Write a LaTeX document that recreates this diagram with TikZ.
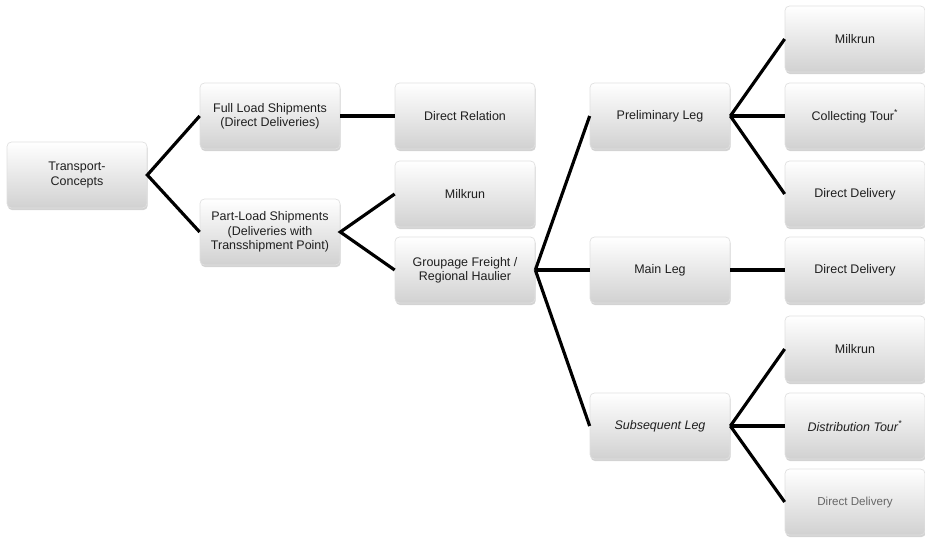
\documentclass[tikz,border=0pt]{standalone}
\usepackage{fontspec}
\setmainfont{Liberation Sans}
\usetikzlibrary{shadows}

\begin{document}
\begin{tikzpicture}[x=0.02cm, y=-0.02cm,
    box/.style={rounded corners=2.5pt, shade, top color=white, bottom color=black!18,
        draw=black!12, minimum width=2.8cm, minimum height=1.32cm, align=center,
        font=\fontsize{7.1}{8.2}\selectfont, text=black!88,
        drop shadow={shadow xshift=0.4pt, shadow yshift=-1.2pt, opacity=0.35}},
    link/.style={line width=1.8pt, black}]
    \useasboundingbox (0,0) rectangle (925,537);

    \node[box] (tc)     at (77,175)  {Transport-\\Concepts};
    \node[box] (full)   at (270,116) {Full Load Shipments\\(Direct Deliveries)};
    \node[box] (part)   at (270,232) {Part-Load Shipments\\(Deliveries with\\Transshipment Point)};
    \node[box] (rel)    at (465,116) {Direct Relation};
    \node[box] (milk1)  at (465,194) {Milkrun};
    \node[box] (group)  at (465,270) {Groupage Freight /\\Regional Haulier};
    \node[box] (pre)    at (660,116) {Preliminary Leg};
    \node[box] (main)   at (660,270) {Main Leg};
    \node[box] (sub)    at (660,426) {\itshape Subsequent Leg};
    \node[box] (milk2)  at (855,39)  {Milkrun};
    \node[box] (coll)   at (855,116) {Collecting Tour\textsuperscript{*}};
    \node[box] (dd1)    at (855,194) {Direct Delivery};
    \node[box] (dd2)    at (855,270) {Direct Delivery};
    \node[box] (milk3)  at (855,349) {Milkrun};
    \node[box] (dist)   at (855,426) {\itshape Distribution Tour\textsuperscript{*}};
    \node[box, text=black!60, font=\fontsize{6.6}{7.6}\selectfont] (dd3) at (855,502) {Direct Delivery};

    \draw[link] (full.west) -- (tc.east) -- (part.west);
    \draw[link] (full) -- (rel);
    \draw[link] (milk1.west) -- (part.east) -- (group.west);
    \draw[link] (group.east) -- (pre.west);
    \draw[link] (group.east) -- (main.west);
    \draw[link] (group.east) -- (sub.west);
    \draw[link] (pre.east) -- (milk2.west);
    \draw[link] (pre.east) -- (coll.west);
    \draw[link] (pre.east) -- (dd1.west);
    \draw[link] (main) -- (dd2);
    \draw[link] (sub.east) -- (milk3.west);
    \draw[link] (sub.east) -- (dist.west);
    \draw[link] (sub.east) -- (dd3.west);
\end{tikzpicture}
\end{document}
